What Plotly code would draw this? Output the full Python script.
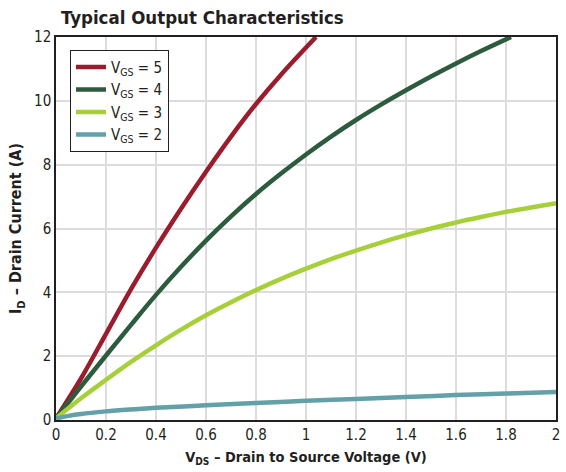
import plotly.graph_objects as go

# Drain-source voltage samples (V) and drain current (A) per gate voltage
vds_5 = [0.0, 0.1, 0.2, 0.3, 0.4, 0.5, 0.6, 0.7, 0.8, 0.9, 1.04]
id_5 = [0.05, 1.3, 2.7, 4.1, 5.4, 6.62, 7.78, 8.88, 9.9, 10.82, 12.0]

vds_4 = [0.0, 0.1, 0.2, 0.3, 0.4, 0.5, 0.6, 0.7, 0.8, 0.9, 1.0, 1.1, 1.2, 1.3,
         1.4, 1.5, 1.6, 1.7, 1.82]
id_4 = [0.05, 1.05, 2.02, 2.98, 3.92, 4.8, 5.62, 6.38, 7.08, 7.72, 8.32, 8.88,
        9.4, 9.88, 10.33, 10.76, 11.17, 11.56, 12.0]

vds_3 = [0.0, 0.1, 0.2, 0.3, 0.4, 0.5, 0.6, 0.7, 0.8, 0.9, 1.0, 1.1, 1.2, 1.3,
         1.4, 1.5, 1.6, 1.7, 1.8, 1.9, 2.0]
id_3 = [0.05, 0.68, 1.26, 1.82, 2.34, 2.83, 3.28, 3.69, 4.07, 4.42, 4.74, 5.04,
        5.31, 5.56, 5.79, 6.0, 6.19, 6.36, 6.52, 6.66, 6.79]

vds_2 = [0.0, 0.05, 0.1, 0.2, 0.3, 0.4, 0.6, 0.8, 1.0, 1.2, 1.4, 1.6, 1.8, 2.0]
id_2 = [0.05, 0.13, 0.19, 0.27, 0.33, 0.38, 0.46, 0.53, 0.6, 0.66, 0.72, 0.78,
        0.83, 0.88]

series_names = ["V<sub>GS</sub> = 5", "V<sub>GS</sub> = 4",
                "V<sub>GS</sub> = 3", "V<sub>GS</sub> = 2"]
series_colors = ["#9b1c2c", "#2d5b3d", "#a7cf3a", "#63a0a8"]

x_ticks = [0, 0.2, 0.4, 0.6, 0.8, 1, 1.2, 1.4, 1.6, 1.8, 2]
x_tick_text = ["0", "0.2", "0.4", "0.6", "0.8", "1", "1.2", "1.4", "1.6", "1.8", "2"]
y_ticks = [0, 2, 4, 6, 8, 10, 12]

FONT = "DejaVu Sans Condensed, Liberation Sans Narrow, Roboto, sans-serif"
INK = "#231f20"

fig = go.Figure()
for xs, ys, name, color in zip(
    [vds_5, vds_4, vds_3, vds_2],
    [id_5, id_4, id_3, id_2],
    series_names,
    series_colors,
):
    fig.add_trace(go.Scatter(
        x=xs, y=ys, mode="lines", name=name,
        line=dict(color=color, width=4.5, shape="spline", smoothing=1.0),
    ))

axis_common = dict(
    showgrid=True, gridcolor="#dcdcdc", gridwidth=1.5,
    showline=True, linecolor=INK, linewidth=1.5, mirror=True,
    ticks="", zeroline=False,
    tickfont=dict(family=FONT, size=15, color=INK),
)

fig.update_xaxes(
    range=[0, 2], tickvals=x_ticks, ticktext=x_tick_text,
    title=dict(text="<b>V<sub>DS</sub> – Drain to Source Voltage (V)</b>",
               font=dict(family=FONT, size=14.5, color=INK), standoff=9),
    **axis_common,
)
fig.update_yaxes(
    range=[0, 12], tickvals=y_ticks,
    title=dict(text="<b>I<sub>D</sub> – Drain Current (A)</b>",
               font=dict(family=FONT, size=16, color=INK), standoff=8),
    **axis_common,
)

fig.update_layout(
    width=566, height=472,
    margin=dict(l=56, r=6, t=37, b=52),
    paper_bgcolor="white", plot_bgcolor="white",
    showlegend=True,
    legend=dict(
        x=0.028, y=0.967, xanchor="left", yanchor="top",
        bgcolor="white", bordercolor=INK, borderwidth=1,
        font=dict(family=FONT, size=15, color=INK),
        itemwidth=30, tracegroupgap=0,
    ),
    annotations=[dict(
        text="<b>Typical Output Characteristics</b>",
        xref="paper", yref="paper", x=0.006, y=1.0, yshift=7,
        xanchor="left", yanchor="bottom", showarrow=False,
        font=dict(family=FONT, size=18.5, color=INK),
    )],
)

fig.write_html("out.html")
